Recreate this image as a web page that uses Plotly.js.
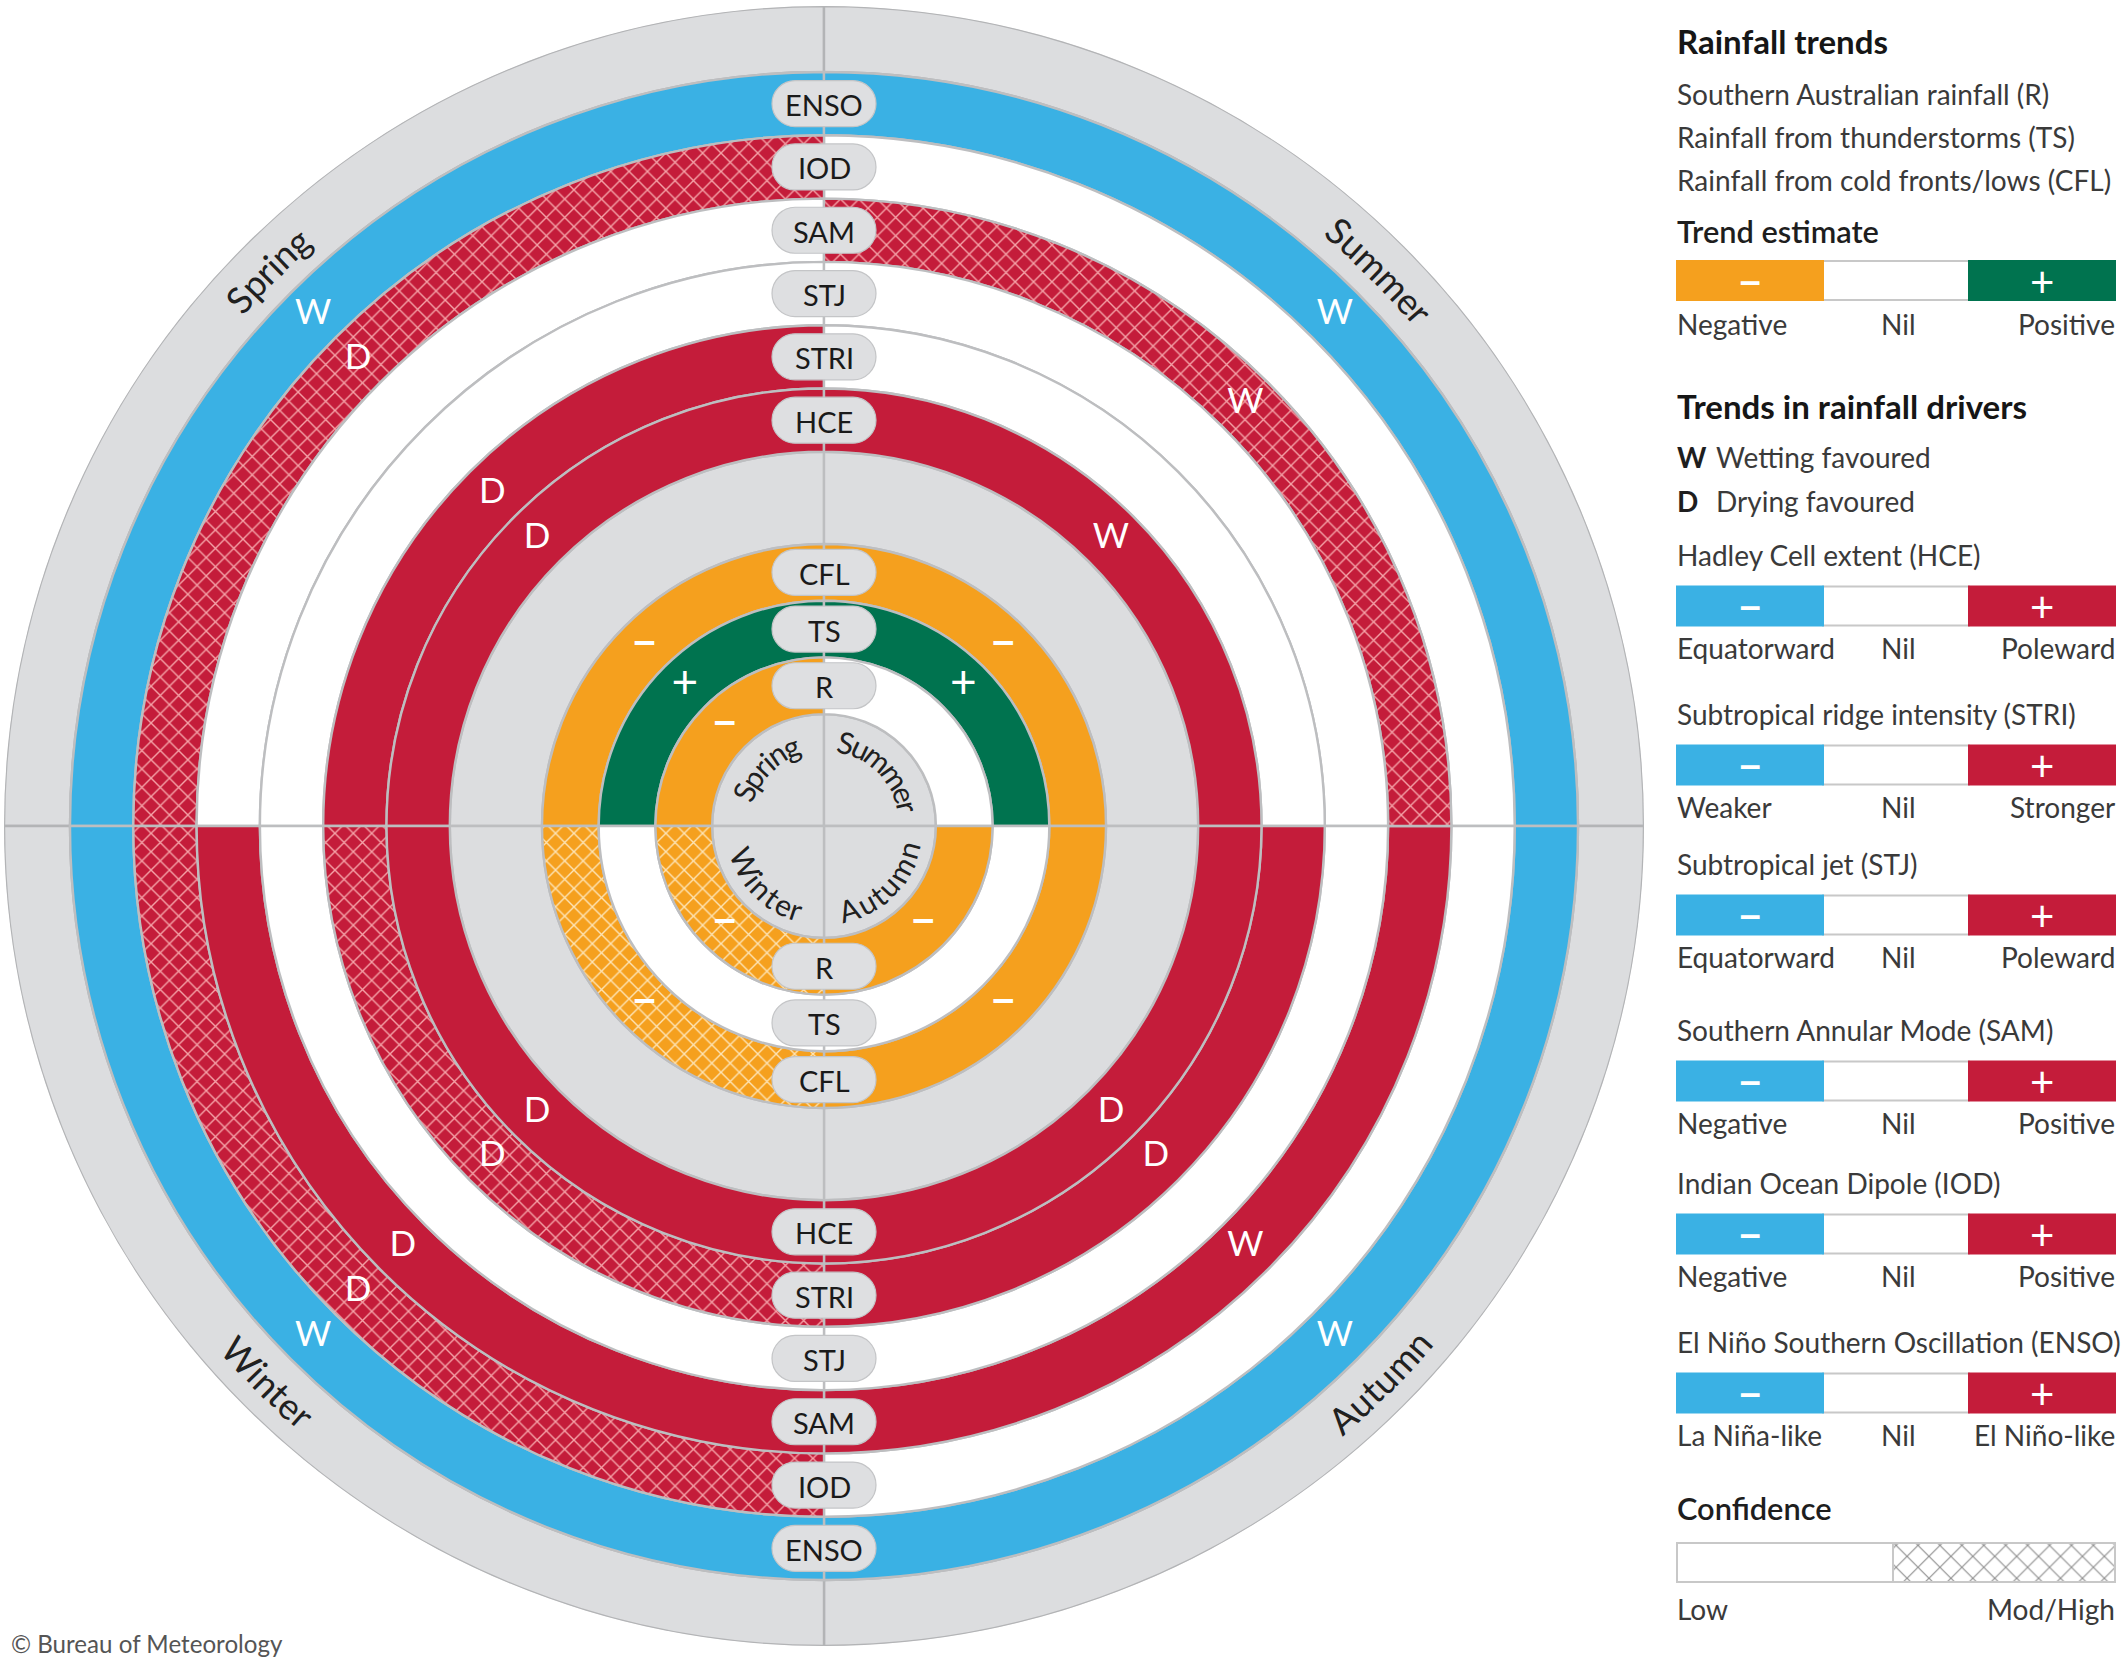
<!DOCTYPE html>
<html>
<head>
<meta charset="utf-8">
<script src="https://cdn.plot.ly/plotly-3.0.1.min.js"></script>
<style>html,body{margin:0;padding:0;background:#fff;}</style>
</head>
<body>
<div id="chart" style="width:2128px;height:1659px;"></div>
<script>
// ================= DATA =================
// season order used in every array: Spring, Summer, Autumn, Winter
const seasonNames = ['Spring', 'Summer', 'Autumn', 'Winter'];
// rainfall drivers, outer ring to inner ring
const driverNames = ['ENSO', 'IOD', 'SAM', 'STJ', 'STRI', 'HCE'];
// trend: -1 = negative, 0 = nil, 1 = positive
const ensoTrend = [-1, -1, -1, -1];
const iodTrend  = [ 1,  0,  0,  1];
const samTrend  = [ 0,  1,  1,  1];
const stjTrend  = [ 0,  0,  0,  0];
const striTrend = [ 1,  0,  1,  1];
const hceTrend  = [ 1,  1,  1,  1];
// confidence: 0 = low, 1 = moderate/high
const ensoConf = [0, 0, 0, 0];
const iodConf  = [1, 0, 0, 1];
const samConf  = [0, 1, 0, 0];
const stjConf  = [0, 0, 0, 0];
const striConf = [0, 0, 0, 1];
const hceConf  = [0, 0, 0, 0];
// effect on rainfall: W = wetting favoured, D = drying favoured
const ensoEffect = ['W', 'W', 'W', 'W'];
const iodEffect  = ['D', '',  '',  'D'];
const samEffect  = ['',  'W', 'W', 'D'];
const stjEffect  = ['',  '',  '',  ''];
const striEffect = ['D', '',  'D', 'D'];
const hceEffect  = ['D', 'W', 'D', 'D'];
// rainfall trends, outer ring to inner ring
const rainNames = ['CFL', 'TS', 'R'];
const cflTrend = [-1, -1, -1, -1];
const tsTrend  = [ 1,  1,  0,  0];
const rTrend   = [-1,  0, -1, -1];
const cflConf = [0, 0, 0, 1];
const tsConf  = [0, 0, 0, 0];
const rConf   = [0, 0, 0, 1];
// legend texts
const legendRainLines = ['Southern Australian rainfall (R)', 'Rainfall from thunderstorms (TS)', 'Rainfall from cold fronts/lows (CFL)'];
const trendLabels = ['Negative', 'Nil', 'Positive'];
const effectCodes = ['W', 'D'];
const effectMeanings = ['Wetting favoured', 'Drying favoured'];
const driverLegendTitles = ['Hadley Cell extent (HCE)', 'Subtropical ridge intensity (STRI)', 'Subtropical jet (STJ)',
  'Southern Annular Mode (SAM)', 'Indian Ocean Dipole (IOD)', 'El Niño Southern Oscillation (ENSO)'];
const driverNegLabels = ['Equatorward', 'Weaker', 'Equatorward', 'Negative', 'Negative', 'La Niña-like'];
const driverPosLabels = ['Poleward', 'Stronger', 'Poleward', 'Positive', 'Positive', 'El Niño-like'];
const confLabels = ['Low', 'Mod/High'];

// ================= STYLE / GEOMETRY =================
const W = 2128, H = 1659;
const CX = 824, CY = 826, R_OUT = 820;
const D_OUT = 754, D_W = 63.3;      // driver rings
const RF_OUT = 282, RF_W = 56.7;    // rainfall rings
const SEASON_THETA = [135, 45, 315, 225];
const BLUE = '#3AB1E4', RED = '#C41C3A', ORANGE = '#F5A01E', GREEN = '#00734F';
const WHITE = '#FFFFFF', GRAY = '#DCDDDF', LINE = '#BDBEC0';
const RED_HATCH = '#F5A3A8', ORANGE_HATCH = '#FDE4B6';
const FONT = 'Lato, "Open Sans", "DejaVu Sans", sans-serif';

const cv = document.createElement('canvas').getContext('2d');
function tw(str, size, weight) { cv.font = (weight || 400) + ' ' + size + 'px Lato'; return cv.measureText(str).width; }
function fitSize(str, target, weight, lo, hi) {
  let s = 100 * target / tw(str, 100, weight);
  if (!isFinite(s)) s = (lo + hi) / 2;
  return Math.max(lo, Math.min(hi, s));
}
const bodySize = Math.min(fitSize('Rainfall from cold fronts/lows (CFL)', 443, 400, 22, 31),
                          fitSize('El Niño Southern Oscillation (ENSO)', 444, 400, 22, 31));
const headSize = fitSize('Trends in rainfall drivers', 364, 700, 24, 33);
const subSize = fitSize('Trend estimate', 202, 600, 22, 32);
const copySize = fitSize('© Bureau of Meteorology', 272, 400, 18, 26);
const outerSeasonSize = fitSize('Summer', 132, 400, 26, 38);
const innerSeasonSize = fitSize('Summer', 110, 400, 20, 30);

// ================= RINGS (barpolar) =================
const driverRings = [
  {trend: ensoTrend, conf: ensoConf, effect: ensoEffect},
  {trend: iodTrend, conf: iodConf, effect: iodEffect},
  {trend: samTrend, conf: samConf, effect: samEffect},
  {trend: stjTrend, conf: stjConf, effect: stjEffect},
  {trend: striTrend, conf: striConf, effect: striEffect},
  {trend: hceTrend, conf: hceConf, effect: hceEffect}
];
const rainRings = [
  {trend: cflTrend, conf: cflConf},
  {trend: tsTrend, conf: tsConf},
  {trend: rTrend, conf: rConf}
];
const driverColor = t => t < 0 ? BLUE : (t > 0 ? RED : WHITE);
const rainColor = t => t < 0 ? ORANGE : (t > 0 ? GREEN : WHITE);

const traces = [];
function segTrace(thetas, inner, outer, color, lineColor, hatchColor) {
  const tr = {
    type: 'barpolar', subplot: 'polar',
    theta: thetas,
    r: thetas.map(() => outer - inner),
    base: thetas.map(() => inner),
    width: thetas.map(() => 90),
    marker: {color: color, line: {color: lineColor || LINE, width: 2.4}},
    hoverinfo: 'skip'
  };
  if (hatchColor) {
    tr.marker.pattern = {shape: 'x', fillmode: 'replace', bgcolor: color, fgcolor: hatchColor,
                         fgopacity: 1, size: 13, solidity: 0.2};
  }
  return tr;
}
// ring: solid segments in one trace, each hatched segment in its own trace
function addRing(inner, outer, fills, hatched, hatchColor, lineColor) {
  const solidIdx = fills.map((c, k) => k).filter(k => !hatched[k]);
  if (solidIdx.length) {
    traces.push(segTrace(solidIdx.map(k => SEASON_THETA[k]), inner, outer, solidIdx.map(k => fills[k]), lineColor));
  }
  fills.forEach((c, k) => {
    if (hatched[k]) traces.push(segTrace([SEASON_THETA[k]], inner, outer, c, lineColor, hatchColor));
  });
}
const none = [0, 0, 0, 0];
const grayFill = [GRAY, GRAY, GRAY, GRAY];
addRing(D_OUT, R_OUT, grayFill, none, null, '#B3B4B6');
const hceInner = D_OUT - driverNames.length * D_W;
addRing(RF_OUT, hceInner, grayFill, none, null);
const rInner = RF_OUT - rainNames.length * RF_W;
addRing(0, rInner, grayFill, none, null);

const driverMid = [], rainMid = [];
driverRings.forEach((ring, i) => {
  const outer = D_OUT - i * D_W, inner = outer - D_W;
  driverMid.push((outer + inner) / 2);
  addRing(inner, outer, ring.trend.map(driverColor), ring.conf, RED_HATCH);
});
rainRings.forEach((ring, i) => {
  const outer = RF_OUT - i * RF_W, inner = outer - RF_W;
  rainMid.push((outer + inner) / 2);
  addRing(inner, outer, ring.trend.map(rainColor), ring.conf, ORANGE_HATCH);
});

// W / D letters
const letR = [], letT = [], letS = [];
driverRings.forEach((ring, i) => ring.effect.forEach((e, k) => {
  if (e) { letR.push(driverMid[i]); letT.push(SEASON_THETA[k]); letS.push(e); }
}));
traces.push({type: 'scatterpolar', subplot: 'polar', mode: 'text', r: letR, theta: letT, text: letS,
  textfont: {family: FONT, size: 35, color: '#FFFFFF'}, hoverinfo: 'skip', cliponaxis: false});
// + signs and − signs
const plR = [], plT = [], miR = [], miT = [];
rainRings.forEach((ring, i) => ring.trend.forEach((t, k) => {
  if (t > 0) { plR.push(rainMid[i]); plT.push(SEASON_THETA[k]); }
  if (t < 0) { miR.push(rainMid[i]); miT.push(SEASON_THETA[k]); }
}));
traces.push({type: 'scatterpolar', subplot: 'polar', mode: 'text', r: plR, theta: plT, text: plR.map(() => '+'),
  textfont: {family: FONT, size: 46, color: '#FFFFFF'}, hoverinfo: 'skip', cliponaxis: false});
traces.push({type: 'scatterpolar', subplot: 'polar', mode: 'text', r: miR, theta: miT, text: miR.map(() => '\u2212'),
  textfont: {family: FONT, size: 44, color: '#FFFFFF', weight: 700}, hoverinfo: 'skip', cliponaxis: false});

// ================= LEGEND SWATCHES (bar on pixel axes) =================
const LX0 = 1677, LX1 = 2115, SW_H = 39;
const segW = (LX1 - LX0) / 3;
const sw = {y: [], x0: [], len: [], color: [], line: []};
function seg(yc, x0, len, color, line) {
  sw.y.push(yc); sw.x0.push(x0); sw.len.push(len); sw.color.push(color); sw.line.push(line);
}
const annotations = [];
function ann(text, x, y, size, opts) {
  opts = opts || {};
  annotations.push({text: text, x: x, y: y, xref: 'x', yref: 'y', showarrow: false,
    xanchor: opts.xanchor || 'center', yanchor: 'middle', textangle: opts.angle || 0,
    font: {family: FONT, size: size, color: opts.color || '#3A3A3A', weight: opts.weight || 400}});
}
function triSwatch(yc, negColor, posColor) {
  seg(yc, LX0 + segW, segW, WHITE, '#C8C8C8');
  seg(yc, LX0, segW, negColor, negColor);
  seg(yc, LX0 + 2 * segW, segW, posColor, posColor);
  ann('\u2212', LX0 + segW / 2, yc, 42, {color: '#fff', weight: 700});
  ann('+', LX0 + 2.5 * segW, yc, 42, {color: '#fff'});
}
function triLabels(yc, neg, nil, pos) {
  ann(neg, LX0 - 2, yc, bodySize, {xanchor: 'left'});
  ann(nil, 1898, yc, bodySize);
  ann(pos, LX1 + 2, yc, bodySize, {xanchor: 'right'});
}
// Rainfall trends block
ann('Rainfall trends', LX0 - 2, 41, headSize, {xanchor: 'left', weight: 700, color: '#161616'});
legendRainLines.forEach((t, i) => ann(t, LX0 - 2, 94 + 43 * i, bodySize, {xanchor: 'left'}));
ann('Trend estimate', LX0 - 2, 231, subSize, {xanchor: 'left', weight: 600, color: '#1E1E1E'});
triSwatch(280.5, ORANGE, GREEN);
triLabels(324, trendLabels[0], trendLabels[1], trendLabels[2]);
// Drivers block
ann('Trends in rainfall drivers', LX0 - 2, 406, headSize, {xanchor: 'left', weight: 700, color: '#161616'});
effectCodes.forEach((c, i) => {
  ann(c, LX0 - 2, 457 + 44 * i, bodySize, {xanchor: 'left', weight: 700, color: '#1E1E1E'});
  ann(effectMeanings[i], 1714, 457 + 44 * i, bodySize, {xanchor: 'left'});
});
const driverTitleY = [555, 714, 864, 1030, 1183, 1342];
driverLegendTitles.forEach((t, i) => {
  const y0 = driverTitleY[i];
  ann(t, LX0 - 2, y0, bodySize, {xanchor: 'left'});
  triSwatch(y0 + 51, BLUE, RED);
  triLabels(y0 + 93, driverNegLabels[i], 'Nil', driverPosLabels[i]);
});
// Confidence block
ann('Confidence', LX0 - 2, 1508, subSize, {xanchor: 'left', weight: 600, color: '#1E1E1E'});
const CONF_SPLIT = 1893, CONF_Y = 1562.5;
seg(CONF_Y, LX0, CONF_SPLIT - LX0, WHITE, '#C8C8C8');
ann(confLabels[0], LX0 - 2, 1609, bodySize, {xanchor: 'left'});
ann(confLabels[1], LX1 + 2, 1609, bodySize, {xanchor: 'right'});
// copyright
ann('© Bureau of Meteorology', 9, 1643, copySize, {xanchor: 'left', color: '#555555'});

traces.push({
  type: 'bar', orientation: 'h', xaxis: 'x', yaxis: 'y',
  y: sw.y, x: sw.len, base: sw.x0, width: sw.y.map(() => SW_H),
  marker: {color: sw.color, line: {color: sw.line, width: 2}},
  hoverinfo: 'skip'
});
// hatched confidence swatch
traces.push({
  type: 'bar', orientation: 'h', xaxis: 'x', yaxis: 'y',
  y: [CONF_Y], x: [LX1 - CONF_SPLIT], base: [CONF_SPLIT], width: [SW_H],
  marker: {color: WHITE, line: {color: '#C8C8C8', width: 2},
    pattern: {shape: 'x', fillmode: 'replace', bgcolor: WHITE, fgcolor: '#8E8E8E', fgopacity: 1, size: 15.5, solidity: 0.14}},
  hoverinfo: 'skip'
});

// ================= RING LABEL PILLS =================
const shapes = [];
const PILL_W = 104, PILL_H = 46;
function pillPath(x, y) {
  const rr = PILL_H / 2, k = 0.5523 * rr;
  const l = x - PILL_W / 2, r = x + PILL_W / 2, t = y - rr, b = y + rr;
  return 'M' + (l + rr) + ',' + t + ' L' + (r - rr) + ',' + t +
    ' C' + (r - rr + k) + ',' + t + ' ' + r + ',' + (y - k) + ' ' + r + ',' + y +
    ' C' + r + ',' + (y + k) + ' ' + (r - rr + k) + ',' + b + ' ' + (r - rr) + ',' + b +
    ' L' + (l + rr) + ',' + b +
    ' C' + (l + rr - k) + ',' + b + ' ' + l + ',' + (y + k) + ' ' + l + ',' + y +
    ' C' + l + ',' + (y - k) + ' ' + (l + rr - k) + ',' + t + ' ' + (l + rr) + ',' + t + ' Z';
}
function addPill(name, mid) {
  [-1, 1].forEach(sgn => {
    const y = CY + sgn * mid;
    shapes.push({type: 'path', xref: 'x', yref: 'y', layer: 'above', path: pillPath(CX, y),
      fillcolor: '#DEDFE1', line: {color: '#C4C5C7', width: 1.2}});
    ann(name, CX, y + 1, 29, {color: '#1A1A1A'});
  });
}
driverNames.forEach((n, i) => addPill(n, driverMid[i]));
rainNames.forEach((n, i) => addPill(n, rainMid[i]));

// ================= SEASON LABELS ON ARCS =================
function arcLabel(word, thetaDeg, radius, size) {
  const top = Math.sin(thetaDeg * Math.PI / 180) > 0;
  const chars = Array.from(word);
  const widths = chars.map(ch => tw(ch, size, 400));
  const total = widths.reduce((a, b) => a + b, 0);
  let cum = 0;
  chars.forEach((ch, i) => {
    const s = cum + widths[i] / 2; cum += widths[i];
    const off = (s - total / 2) / radius * 180 / Math.PI;
    const th = top ? thetaDeg - off : thetaDeg + off;
    const rad = th * Math.PI / 180;
    ann(ch, CX + radius * Math.cos(rad), CY - radius * Math.sin(rad), size,
      {angle: top ? 90 - th : 270 - th, color: '#202020'});
  });
}
seasonNames.forEach((s, k) => {
  arcLabel(s, SEASON_THETA[k], 787, outerSeasonSize);
  arcLabel(s, SEASON_THETA[k], 87, innerSeasonSize);
});

// ================= LAYOUT =================
const layout = {
  width: W, height: H,
  margin: {l: 0, r: 0, t: 0, b: 0, pad: 0},
  paper_bgcolor: '#FFFFFF', plot_bgcolor: 'rgba(0,0,0,0)',
  showlegend: false,
  barmode: 'overlay',
  xaxis: {domain: [0, 1], range: [0, W], autorange: false, visible: false, fixedrange: true},
  yaxis: {domain: [0, 1], range: [H, 0], autorange: false, visible: false, fixedrange: true},
  polar: {
    domain: {x: [(CX - R_OUT) / W, (CX + R_OUT) / W], y: [1 - (CY + R_OUT) / H, 1 - (CY - R_OUT) / H]},
    bgcolor: 'rgba(0,0,0,0)',
    barmode: 'overlay', bargap: 0,
    radialaxis: {range: [0, R_OUT], autorange: false, visible: false},
    angularaxis: {visible: false, rotation: 0, direction: 'counterclockwise'}
  },
  shapes: shapes,
  annotations: annotations
};
Plotly.newPlot('chart', traces, layout, {staticPlot: true, displayModeBar: false});
</script>
</body>
</html>
